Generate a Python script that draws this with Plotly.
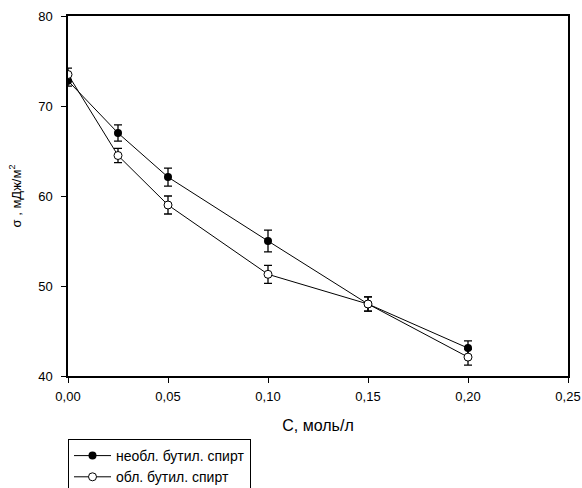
import plotly.graph_objects as go

conc = [0.0, 0.025, 0.05, 0.10, 0.15, 0.20]
untreated = [72.8, 67.0, 62.1, 55.0, 48.0, 43.1]
untreated_err = [0.6, 0.9, 1.0, 1.2, 0.8, 0.8]
treated = [73.5, 64.5, 59.0, 51.3, 48.0, 42.1]
treated_err = [0.7, 0.8, 1.0, 1.0, 0.8, 0.9]
names = ["необл. бутил. спирт", "обл. бутил. спирт"]
x_ticks = [0.0, 0.05, 0.10, 0.15, 0.20, 0.25]
y_ticks = [40, 50, 60, 70, 80]

fig = go.Figure()
fig.add_trace(go.Scatter(
    x=conc, y=untreated, name=names[0], mode="lines+markers",
    line=dict(color="black", width=1),
    marker=dict(symbol="circle", size=8, color="black"),
    error_y=dict(type="data", array=untreated_err, color="black", thickness=1.3, width=4),
))
fig.add_trace(go.Scatter(
    x=conc, y=treated, name=names[1], mode="lines+markers",
    line=dict(color="black", width=1),
    marker=dict(symbol="circle", size=8, color="white", line=dict(color="black", width=1)),
    error_y=dict(type="data", array=treated_err, color="black", thickness=1.3, width=4),
))

font = dict(family="Liberation Sans, Arial, sans-serif", size=13, color="black")
fig.update_layout(
    width=582, height=488,
    margin=dict(l=68, r=14, t=16, b=112),
    paper_bgcolor="white", plot_bgcolor="white",
    font=font,
    separators=",.",
    showlegend=True,
    legend=dict(
        x=0, y=1 - 439 / 488, xref="paper", yref="container",
        xanchor="left", yanchor="top",
        bordercolor="black", borderwidth=1, bgcolor="white",
        font=dict(family="Liberation Sans, Arial, sans-serif", size=14, color="black"),
        tracegroupgap=0, itemwidth=37,
    ),
    xaxis=dict(
        range=[0, 0.25], tickvals=x_ticks, tickformat=".2f", automargin=False,
        showgrid=False, zeroline=False, showline=True, linecolor="black", linewidth=1.5,
        mirror=True, ticks="outside", ticklen=5, tickcolor="black", ticklabelstandoff=3,
        title=dict(text="C, моль/л", standoff=16),
    ),
    yaxis=dict(
        range=[40, 80], tickvals=y_ticks, automargin=False,
        showgrid=False, zeroline=False, showline=True, linecolor="black", linewidth=1.5,
        mirror=True, ticks="outside", ticklen=5, tickcolor="black", ticklabelstandoff=6,
        title=dict(text="σ , мДж/м<sup>2</sup>", standoff=14, font=dict(size=13)),
    ),
)
fig.write_html("out.html")
